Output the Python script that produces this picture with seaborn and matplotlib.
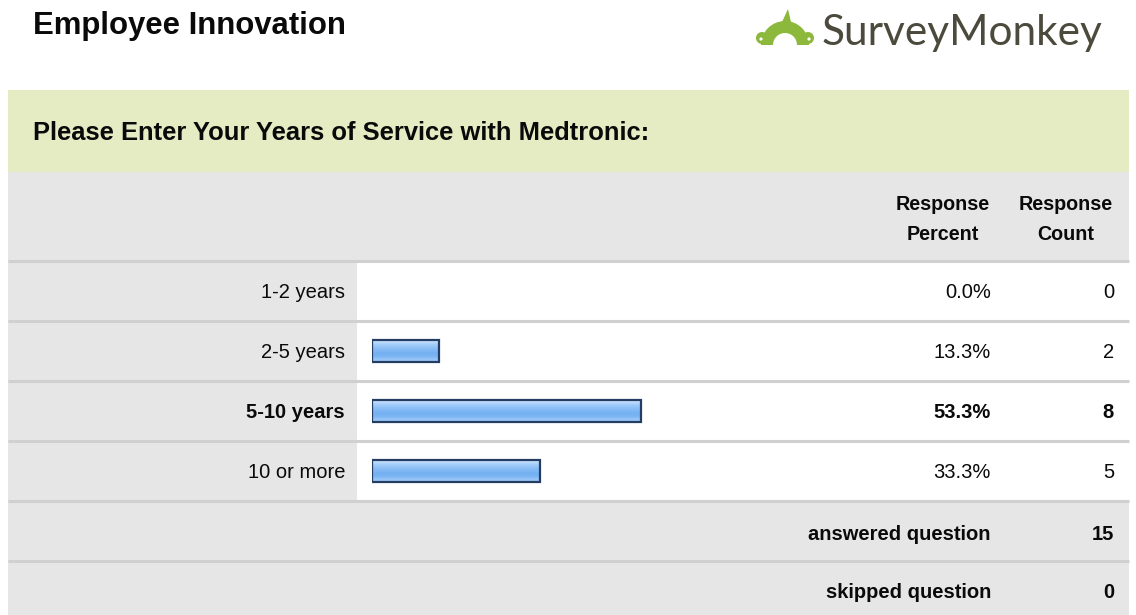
import numpy as np
import pandas as pd
import matplotlib
matplotlib.use('Agg')
import matplotlib.pyplot as plt
import matplotlib.patches as mpatches
import seaborn as sns

# survey data
categories = ["1-2 years", "2-5 years", "5-10 years", "10 or more"]
percents = [0.0, 13.3, 53.3, 33.3]
counts = [0, 2, 8, 5]
top_choice = "5-10 years"
answered = 15
skipped = 0

title = "Employee Innovation"
question = "Please Enter Your Years of Service with Medtronic:"

sns.set_style("white")
plt.rcParams['font.family'] = ['Liberation Sans', 'DejaVu Sans']

W, H = 1136, 615
fig = plt.figure(figsize=(W / 100, H / 100), dpi=100)

# background axes in pixel units (y down) for the table cells and text
bg = fig.add_axes([0, 0, 1, 1])
bg.set_xlim(0, W)
bg.set_ylim(H, 0)
bg.axis('off')

GREEN = "#e5ebc2"
GREY = "#e6e6e6"
LINE = "#d0d0d0"
TXT = "#0a0a0a"

def cell(x0, y0, x1, y1, color):
    bg.add_patch(mpatches.Rectangle((x0, y0), x1 - x0, y1 - y0, facecolor=color,
                                    edgecolor='none', zorder=1))

def hline(y):
    bg.plot([8, 1129], [y, y], color=LINE, lw=2.2, zorder=2, solid_capstyle='butt')

cell(8, 90, 1129, 172, GREEN)
cell(8, 172, 1129, 261, GREY)
row_top = [261, 321, 381, 441]
row_h = 60
for y0 in row_top:
    cell(8, y0, 357, y0 + row_h, GREY)
    cell(357, y0, 1129, y0 + row_h, "white")
cell(8, 501, 1129, H, GREY)
for y in [261, 321, 381, 441, 501, 561]:
    hline(y)

# header texts
bg.text(33, 26, title, fontsize=22.4, fontweight='bold', color=TXT, va='center', ha='left')
bg.text(33, 133, question, fontsize=18.4, fontweight='bold', color=TXT, va='center', ha='left')
for xc, word in [(943, "Percent"), (1066, "Count")]:
    bg.text(xc, 205, "Response", fontsize=14.2, fontweight='bold', color=TXT, ha='center', va='center')
    bg.text(xc, 235, word, fontsize=14.2, fontweight='bold', color=TXT, ha='center', va='center')

# SurveyMonkey logo (arch-shaped monkey head + word mark)
LOGO_G = "#8cb83c"
bg.add_patch(mpatches.Wedge((785, 45), 24, 180, 360, width=12, facecolor=LOGO_G, edgecolor='none', zorder=3))
bg.add_patch(mpatches.Rectangle((761, 38), 12, 7, facecolor=LOGO_G, edgecolor='none', zorder=3))
bg.add_patch(mpatches.Rectangle((797, 38), 12, 7, facecolor=LOGO_G, edgecolor='none', zorder=3))
for ex in (762, 808):
    bg.add_patch(mpatches.Circle((ex, 38), 6.0, facecolor=LOGO_G, edgecolor='none', zorder=3))
    bg.add_patch(mpatches.Circle((ex - 1 if ex < 785 else ex + 1, 39), 1.6, facecolor="white",
                                 edgecolor='none', zorder=4))
bg.add_patch(mpatches.Polygon([(782, 22), (788, 9), (791, 22)], facecolor=LOGO_G, edgecolor='none', zorder=3))
bg.text(822, 33, "SurveyMonkey", fontsize=30.5, color="#4b4a3c", family=['Lato', 'DejaVu Sans'],
        ha='left', va='center')

# per-row texts
for i, (cat, pct, cnt) in enumerate(zip(categories, percents, counts)):
    yc = row_top[i] + row_h / 2 + 1
    w = 'bold' if cat == top_choice else 'normal'
    bg.text(345, yc, cat, fontsize=14.5, fontweight=w, color=TXT, ha='right', va='center')
    bg.text(991, yc, f"{pct:.1f}%", fontsize=14.5, fontweight=w, color=TXT, ha='right', va='center')
    bg.text(1114, yc, str(cnt), fontsize=14.5, fontweight=w, color=TXT, ha='right', va='center')

for yc, lab, val in [(534, "answered question", answered), (592, "skipped question", skipped)]:
    bg.text(991, yc, lab, fontsize=14.5, fontweight='bold', color=TXT, ha='right', va='center')
    bg.text(1114, yc, str(val), fontsize=14.5, fontweight='bold', color=TXT, ha='right', va='center')

# bar axes: 0-100% spans x 372..877 px, rows 261..501 px
bx0, bx1, by0, by1 = 372, 877, 261, 501
ax = fig.add_axes([bx0 / W, 1 - by1 / H, (bx1 - bx0) / W, (by1 - by0) / H])
ax.set_facecolor('none')
df = pd.DataFrame({"category": categories, "percent": percents})
sns.barplot(data=df, x="percent", y="category", order=categories, orient='h',
            color="#8cbff5", width=0.38, edgecolor="#243d63", linewidth=1.6, ax=ax, zorder=3)
ax.set_xlim(0, 100)
ax.set_ylim(3.5, -0.5)
ax.axis('off')

grad = np.array([0.0, 0.25, 0.45, 0.55, 0.8, 1.0]).reshape(-1, 1)
cmap = matplotlib.colors.LinearSegmentedColormap.from_list(
    "bar", ["#cfe4fc", "#a9d0fa", "#8ec0f6", "#74b0f2", "#7bb5f3", "#a0c9f7"])
for p in ax.patches:
    if p.get_width() <= 0:
        p.set_visible(False)
        continue
    x, y = p.get_x(), p.get_y()
    w, h = p.get_width(), p.get_height()
    im = ax.imshow(grad, cmap=cmap, aspect='auto', extent=(x, x + w, y + h, y),
                   zorder=2, interpolation='bicubic')
    im.set_clip_path(p)
    p.set_facecolor('none')
ax.set_xlim(0, 100)
ax.set_ylim(3.5, -0.5)

fig.savefig("out.png", dpi=100)
